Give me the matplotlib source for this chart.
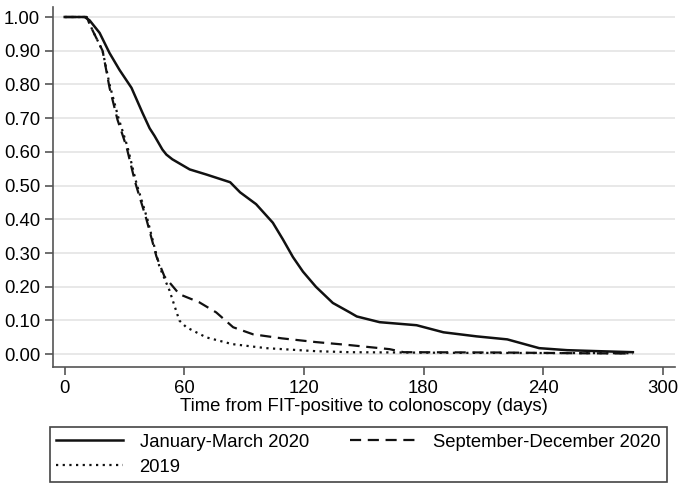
import matplotlib
matplotlib.use("Agg")
import matplotlib.pyplot as plt

plt.rcParams['font.family'] = ['Liberation Sans', 'DejaVu Sans']

# survival curves (days, proportion not yet scoped)
t_jan = [0, 10, 12.5, 17.5, 22.5, 27.5, 33.5, 39, 42.6, 45, 49, 51, 54, 62.7, 71, 83, 88, 96,
         104.4, 109.5, 114.5, 119.5, 126, 134.5, 143, 146.5, 158, 176.5, 190, 206.5, 222, 238,
         252, 268, 285]
s_jan = [1.0, 1.0, 0.99, 0.953, 0.893, 0.843, 0.79, 0.716, 0.67, 0.648, 0.607, 0.592, 0.578,
         0.548, 0.533, 0.51, 0.48, 0.445, 0.39, 0.34, 0.288, 0.245, 0.2, 0.152, 0.124, 0.112,
         0.095, 0.086, 0.065, 0.053, 0.044, 0.018, 0.012, 0.009, 0.006]

t_sep = [0, 11, 14, 19, 22.5, 26.5, 31, 35, 36, 41, 46, 50, 57.5, 67.5, 76, 84.5, 94.5,
         109, 126, 143, 163, 170, 220, 255, 285]
s_sep = [1.0, 1.0, 0.96, 0.9, 0.79, 0.695, 0.615, 0.518, 0.497, 0.4, 0.29, 0.231, 0.178,
         0.154, 0.124, 0.08, 0.059, 0.047, 0.036, 0.027, 0.015, 0.006, 0.005, 0.003, 0.002]

t_19 = [0, 11, 14, 19, 22.5, 27, 31.5, 35.5, 36.5, 41.5, 47.5, 52.5, 57.5, 61, 71, 84,
        101, 126, 143, 200, 285]
s_19 = [1.0, 1.0, 0.96, 0.9, 0.8, 0.7, 0.615, 0.518, 0.497, 0.4, 0.26, 0.19, 0.10, 0.08,
        0.05, 0.03, 0.018, 0.009, 0.006, 0.004, 0.003]

labels = ["January-March 2020", "September-December 2020", "2019"]
xticks = [0, 60, 120, 180, 240, 300]
yticks = [0.0, 0.1, 0.2, 0.3, 0.4, 0.5, 0.6, 0.7, 0.8, 0.9, 1.0]

fig = plt.figure(figsize=(6.85, 4.92), dpi=100)
ax = fig.add_axes([0.077, 0.254, 0.908, 0.732])

l1, = ax.plot(t_jan, s_jan, color="#111111", lw=1.8, ls="-")
l2, = ax.plot(t_sep, s_sep, color="#111111", lw=1.6, ls=(0, (5, 3)))
l3, = ax.plot(t_19, s_19, color="#111111", lw=1.6, ls=(0, (1, 2)))

ax.set_xlim(-6, 306)
ax.set_ylim(-0.038, 1.03)
ax.set_xticks(xticks)
ax.set_yticks(yticks)
ax.set_yticklabels(["%.2f" % v for v in yticks])
ax.tick_params(labelsize=13.3, color="#555555", length=6, width=1.2, pad=3)
ax.grid(axis="y", color="#e6e6e6", lw=1.3)
ax.set_axisbelow(True)
for sp in ["top", "right"]:
    ax.spines[sp].set_visible(False)
for sp in ["left", "bottom"]:
    ax.spines[sp].set_color("#555555")
    ax.spines[sp].set_linewidth(1.2)
ax.set_xlabel("Time from FIT-positive to colonoscopy (days)", fontsize=13.3, labelpad=1)

leg = fig.legend([l1, l3, l2], [labels[0], labels[2], labels[1]], ncol=2,
                 loc="upper left", bbox_to_anchor=(0.073, 0.018, 0.901, 0.114),
                 mode="expand", fontsize=13.3, frameon=True, fancybox=False,
                 edgecolor="#444444", handlelength=3.6, borderaxespad=0,
                 handletextpad=0.9, borderpad=0.35,
                 columnspacing=1.5, labelspacing=0.45, framealpha=1)
leg.get_frame().set_linewidth(1.2)

fig.savefig("out.png", dpi=100)
